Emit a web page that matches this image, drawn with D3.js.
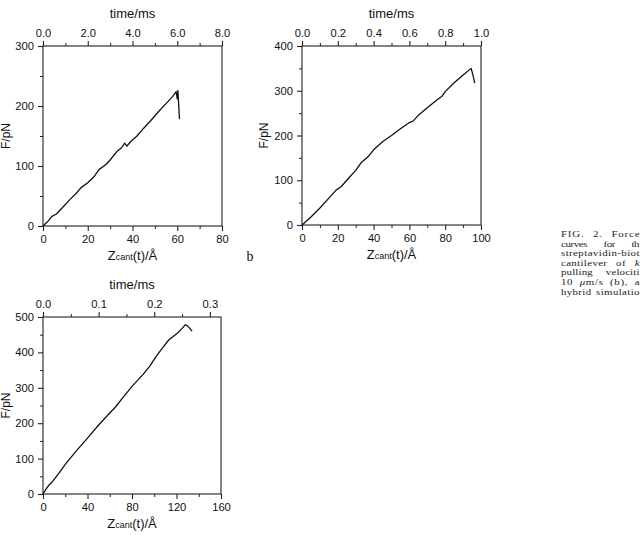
<!DOCTYPE html>
<html>
<head>
<meta charset="utf-8">
<script src="https://cdn.jsdelivr.net/npm/d3@7"></script>
<style>
  body { margin: 0; background: #fff; }
  svg { display: block; font-family: "Liberation Sans", Arial, sans-serif; }
</style>
</head>
<body>
<svg id="fig" width="641" height="535"></svg>
<script>
// force curves (z in Angstrom, F in pN)
const zA = [0, 2, 4, 6, 8, 12, 15, 17, 20, 23, 25, 28, 30, 33, 35, 36.5, 37.5, 39, 42, 45, 48, 52, 55, 58, 59.5, 60, 60.3, 60.6, 61];
const fA = [0, 7, 16, 20, 28, 44, 55, 64, 72, 83, 94, 102, 110, 124, 130, 138, 133, 140, 150, 163, 175, 192, 204, 216, 224, 212, 226, 205, 178];

const zB = [0, 5, 10, 15, 19, 22, 25, 30, 33, 37, 40, 45, 50, 55, 60, 62, 65, 70, 75, 78, 80, 85, 90, 94.5, 95.5, 96.5];
const fB = [0, 18, 38, 60, 78, 86, 100, 122, 139, 153, 168, 186, 200, 215, 229, 232, 245, 262, 278, 287, 298, 318, 335, 350, 335, 317];

const zC = [0, 3, 5, 8, 15, 21, 30, 40, 50, 60, 65, 70, 80, 90, 96, 102, 108, 113, 117, 121, 125, 128, 130, 132, 134];
const fC = [0, 15, 24, 33, 62, 88, 122, 158, 195, 229, 245, 265, 304, 338, 361, 390, 415, 435, 445, 455, 468, 478, 475, 468, 460];

// axis ticks
const zTicksA = [0, 20, 40, 60, 80], zMinorA = [10, 30, 50, 70];
const tTicksA = [0, 2, 4, 6, 8], tMinorA = [1, 3, 5, 7];
const fTicksA = [0, 100, 200, 300], fMinorA = [50, 150, 250];

const zTicksB = [0, 20, 40, 60, 80, 100], zMinorB = [10, 30, 50, 70, 90];
const tTicksB = [0, 0.2, 0.4, 0.6, 0.8, 1.0], tMinorB = [0.1, 0.3, 0.5, 0.7, 0.9];
const fTicksB = [0, 100, 200, 300, 400], fMinorB = [50, 150, 250, 350];

const zTicksC = [0, 40, 80, 120, 160], zMinorC = [20, 60, 100, 140];
const tTicksC = [0, 0.1, 0.2, 0.3], tMinorC = [0.05, 0.15, 0.25];
const fTicksC = [0, 100, 200, 300, 400, 500], fMinorC = [50, 150, 250, 350, 450];

// caption as far as it is visible in the scan: [plain, italic, plain]
const captionLines = [
  ['FIG. 2. Force', '', ''],
  ['curves for th', '', ''],
  ['streptavidin-biot', '', ''],
  ['cantilever of ', 'k', ''],
  ['pulling velociti', '', ''],
  ['10 ', '\u03bc', 'm/s (b), a'],
  ['hybrid simulatio', '', '']
];
const captionSpacing = [4, 11, 0, 4.5, 8, 2.5, 1.2];

const panels = [
  { z: zA, f: fA, zMax: 80, tMax: 8, fMax: 300, left: 43, top: 46, right: 222, bottom: 226,
    zTicks: zTicksA, zMinor: zMinorA, tTicks: tTicksA, tMinor: tMinorA, fTicks: fTicksA, fMinor: fMinorA, fLabelX: 9.5 },
  { z: zB, f: fB, zMax: 100, tMax: 1.0, fMax: 400, left: 302, top: 46, right: 481, bottom: 225,
    zTicks: zTicksB, zMinor: zMinorB, tTicks: tTicksB, tMinor: tMinorB, fTicks: fTicksB, fMinor: fMinorB, fLabelX: 268 },
  { z: zC, f: fC, zMax: 160, tMax: 0.32, fMax: 500, left: 43, top: 317, right: 221, bottom: 494,
    zTicks: zTicksC, zMinor: zMinorC, tTicks: tTicksC, tMinor: tMinorC, fTicks: fTicksC, fMinor: fMinorC, fLabelX: 9.5 }
];

const $svg = d3.select('#fig');
const ink = '#222';

panels.forEach(p => {
  const x = d3.scaleLinear().domain([0, p.zMax]).range([p.left, p.right]);
  const xt = d3.scaleLinear().domain([0, p.tMax]).range([p.left, p.right]);
  const y = d3.scaleLinear().domain([0, p.fMax]).range([p.bottom, p.top]);

  const $g = $svg.append('g');

  // frame
  $g.append('rect')
    .attr('x', p.left).attr('y', p.top)
    .attr('width', p.right - p.left).attr('height', p.bottom - p.top)
    .attr('fill', 'none').attr('stroke', ink).attr('stroke-width', 1.1);

  const axes = [
    { ax: d3.axisBottom(x).tickValues(p.zTicks).tickFormat(d3.format('d')), minor: d3.axisBottom(x).tickValues(p.zMinor), tr: `translate(0,${p.bottom})` },
    { ax: d3.axisTop(xt).tickValues(p.tTicks).tickFormat(d3.format('.1f')), minor: d3.axisTop(xt).tickValues(p.tMinor), tr: `translate(0,${p.top})` },
    { ax: d3.axisLeft(y).tickValues(p.fTicks).tickFormat(d3.format('d')), minor: d3.axisLeft(y).tickValues(p.fMinor), tr: `translate(${p.left},0)` }
  ];

  axes.forEach(a => {
    const $ax = $g.append('g').attr('transform', a.tr)
      .call(a.ax.tickSize(5).tickPadding(4));
    $ax.select('.domain').remove();
    $ax.selectAll('line').attr('stroke', ink).attr('stroke-width', 1.1);
    $ax.selectAll('text').attr('font-size', 11.2).attr('fill', '#111')
      .attr('font-family', '"Liberation Sans", Arial, sans-serif');

    const $mn = $g.append('g').attr('transform', a.tr)
      .call(a.minor.tickSize(3).tickFormat(''));
    $mn.select('.domain').remove();
    $mn.selectAll('line').attr('stroke', ink).attr('stroke-width', 1);
  });

  const cx = (p.left + p.right) / 2;

  // top title
  $g.append('text')
    .attr('x', cx).attr('y', p.top - 28)
    .attr('text-anchor', 'middle').attr('font-size', 13).attr('fill', '#111')
    .text('time/ms');

  // bottom title Zcant(t)/Å
  const $xt = $g.append('text')
    .attr('x', cx).attr('y', p.bottom + 34)
    .attr('text-anchor', 'middle').attr('font-size', 13).attr('fill', '#111');
  $xt.append('tspan').text('Z');
  $xt.append('tspan').attr('font-size', 9).text('cant');
  $xt.append('tspan').text('(t)/\u00c5');

  // y title
  $g.append('text')
    .attr('transform', `translate(${p.fLabelX},${(p.top + p.bottom) / 2}) rotate(-90)`)
    .attr('text-anchor', 'middle').attr('font-size', 12).attr('fill', '#111')
    .text('F/pN');

  // curve
  const line = d3.line()
    .x((d, i) => x(p.z[i]))
    .y(d => y(d));

  $g.append('path')
    .attr('d', line(p.f))
    .attr('fill', 'none')
    .attr('stroke', '#111')
    .attr('stroke-width', 1.3)
    .attr('stroke-linejoin', 'round');
});

// panel letter
$svg.append('text')
  .attr('x', 250).attr('y', 261)
  .attr('text-anchor', 'middle')
  .attr('font-family', '"Liberation Serif", "Times New Roman", serif')
  .attr('font-size', 14).attr('fill', '#111')
  .text('b');

// caption, justified to the right edge of the page
const $cap = $svg.append('g')
  .attr('transform', 'translate(561,0) scale(1.27,1)')
  .attr('font-family', '"Liberation Serif", "Times New Roman", serif')
  .attr('font-size', 8.6)
  .attr('fill', '#222');

$cap.selectAll('text')
  .data(captionLines)
  .join('text')
  .attr('x', 0)
  .attr('y', (d, i) => 237 + i * 9.6)
  .attr('word-spacing', (d, i) => captionSpacing[i])
  .attr('textLength', 78.5 / 1.27)
  .attr('lengthAdjust', 'spacing')
  .each(function (d) {
    const $t = d3.select(this);
    $t.append('tspan').text(d[0]);
    if (d[1]) $t.append('tspan').attr('font-style', 'italic').text(d[1]);
    if (d[2]) $t.append('tspan').text(d[2]);
  });
</script>
</body>
</html>
